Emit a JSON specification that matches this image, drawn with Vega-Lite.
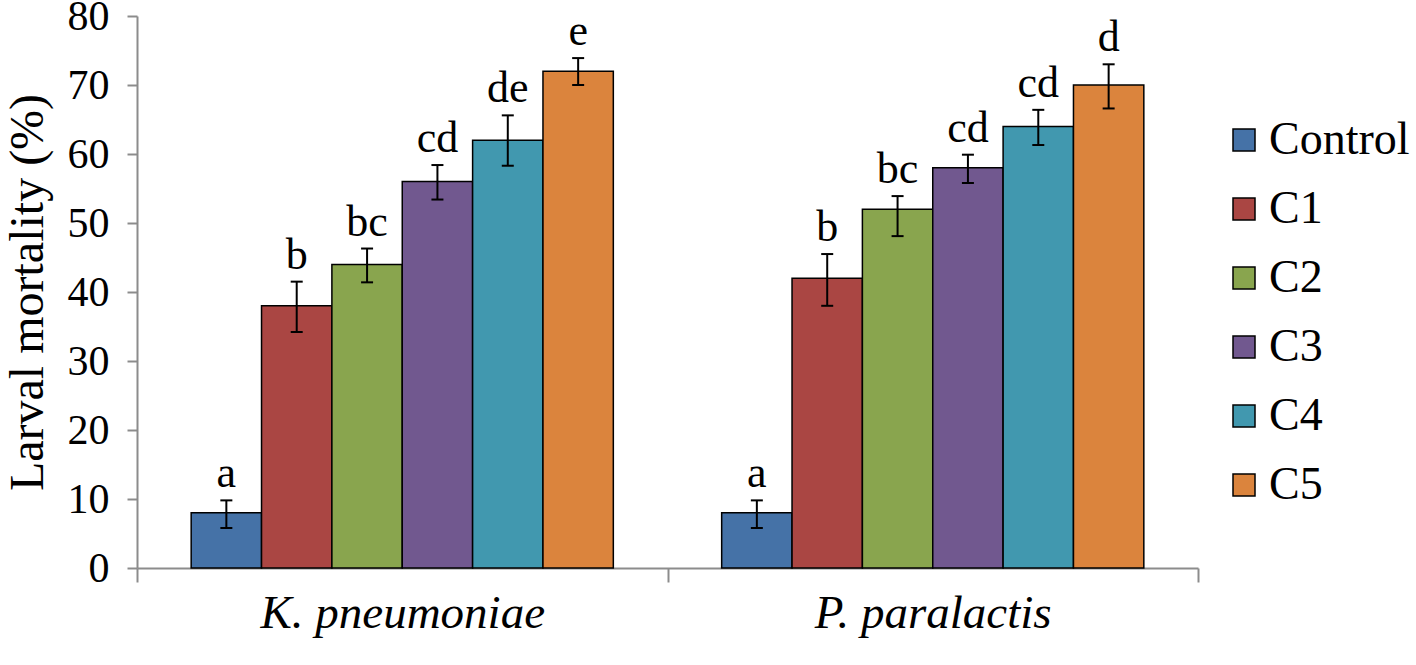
{
  "$schema": "https://vega.github.io/schema/vega-lite/v6.json",
  "width": 1061,
  "height": 552,
  "autosize": {"type": "none"},
  "padding": {"left": 137, "top": 16, "right": 218, "bottom": 97},
  "config": {"font": "Liberation Serif", "view": {"stroke": null}},
  "data": {
    "values": [
      {"group": "K. pneumoniae", "treatment": "Control", "value": 8, "lo": 5.8, "hi": 9.8, "letter": "a"},
      {"group": "K. pneumoniae", "treatment": "C1", "value": 38, "lo": 34.2, "hi": 41.5, "letter": "b"},
      {"group": "K. pneumoniae", "treatment": "C2", "value": 44, "lo": 41.4, "hi": 46.3, "letter": "bc"},
      {"group": "K. pneumoniae", "treatment": "C3", "value": 56, "lo": 53.4, "hi": 58.4, "letter": "cd"},
      {"group": "K. pneumoniae", "treatment": "C4", "value": 62, "lo": 58.3, "hi": 65.6, "letter": "de"},
      {"group": "K. pneumoniae", "treatment": "C5", "value": 72, "lo": 70.0, "hi": 73.9, "letter": "e"},
      {"group": "P. paralactis", "treatment": "Control", "value": 8, "lo": 5.8, "hi": 9.8, "letter": "a"},
      {"group": "P. paralactis", "treatment": "C1", "value": 42, "lo": 38.0, "hi": 45.5, "letter": "b"},
      {"group": "P. paralactis", "treatment": "C2", "value": 52, "lo": 48.1, "hi": 53.9, "letter": "bc"},
      {"group": "P. paralactis", "treatment": "C3", "value": 58, "lo": 55.8, "hi": 59.9, "letter": "cd"},
      {"group": "P. paralactis", "treatment": "C4", "value": 64, "lo": 61.3, "hi": 66.4, "letter": "cd"},
      {"group": "P. paralactis", "treatment": "C5", "value": 70, "lo": 66.6, "hi": 73.0, "letter": "d"}
    ]
  },
  "encoding": {
    "x": {
      "field": "group",
      "type": "nominal",
      "sort": ["K. pneumoniae", "P. paralactis"],
      "scale": {"paddingInner": 0, "paddingOuter": 0},
      "axis": {
        "title": null,
        "labelAngle": 0,
        "labelLimit": 0,
        "tickBand": "extent",
        "tickSize": 14,
        "tickWidth": 2,
        "tickColor": "#8c8c8c",
        "domainColor": "#8c8c8c",
        "domainWidth": 2,
        "labelFontSize": 47,
        "labelFontStyle": "italic",
        "labelColor": "black",
        "labelPadding": 8
      }
    },
    "xOffset": {
      "field": "treatment",
      "type": "nominal",
      "sort": ["Control", "C1", "C2", "C3", "C4", "C5"],
      "scale": {"paddingInner": 0, "paddingOuter": 0.77}
    }
  },
  "layer": [
    {
      "mark": {"type": "bar", "stroke": "black", "strokeWidth": 1.5},
      "encoding": {
        "y": {
          "field": "value",
          "type": "quantitative",
          "scale": {"domain": [0, 80], "nice": false},
          "axis": {
            "title": "Larval mortality (%)",
            "values": [0, 10, 20, 30, 40, 50, 60, 70, 80],
            "grid": false,
            "tickSize": 10,
            "tickWidth": 2,
            "tickColor": "#8c8c8c",
            "domainColor": "#8c8c8c",
            "domainWidth": 2,
            "labelFontSize": 42,
            "labelColor": "black",
            "labelPadding": 18,
            "titleFontSize": 48,
            "titleFontWeight": "normal",
            "titleColor": "black",
            "titlePadding": 15
          }
        },
        "color": {
          "field": "treatment",
          "type": "nominal",
          "sort": ["Control", "C1", "C2", "C3", "C4", "C5"],
          "scale": {"range": ["#4572A7", "#AA4643", "#89A54E", "#71588F", "#4198AF", "#DB843D"]},
          "legend": {
            "orient": "none",
            "legendX": 1084,
            "legendY": 101,
            "title": null,
            "symbolType": "square",
            "symbolSize": 484,
            "symbolStrokeColor": "black",
            "symbolStrokeWidth": 1.5,
            "symbolFillOpacity": 1,
            "labelFontSize": 46,
            "labelColor": "black",
            "labelOffset": 2,
            "labelLimit": 0,
            "rowPadding": 23
          }
        }
      }
    },
    {
      "mark": {"type": "rule", "color": "black", "strokeWidth": 2},
      "encoding": {
        "y": {"field": "lo", "type": "quantitative", "title": "Larval mortality (%)"},
        "y2": {"field": "hi"}
      }
    },
    {
      "mark": {"type": "tick", "color": "black", "thickness": 2, "size": 12, "opacity": 1},
      "encoding": {"y": {"field": "lo", "type": "quantitative", "title": "Larval mortality (%)"}}
    },
    {
      "mark": {"type": "tick", "color": "black", "thickness": 2, "size": 12, "opacity": 1},
      "encoding": {"y": {"field": "hi", "type": "quantitative", "title": "Larval mortality (%)"}}
    },
    {
      "mark": {"type": "text", "baseline": "alphabetic", "dy": -13, "fontSize": 44, "color": "black"},
      "encoding": {
        "y": {"field": "hi", "type": "quantitative", "title": "Larval mortality (%)"},
        "text": {"field": "letter"}
      }
    }
  ]
}
